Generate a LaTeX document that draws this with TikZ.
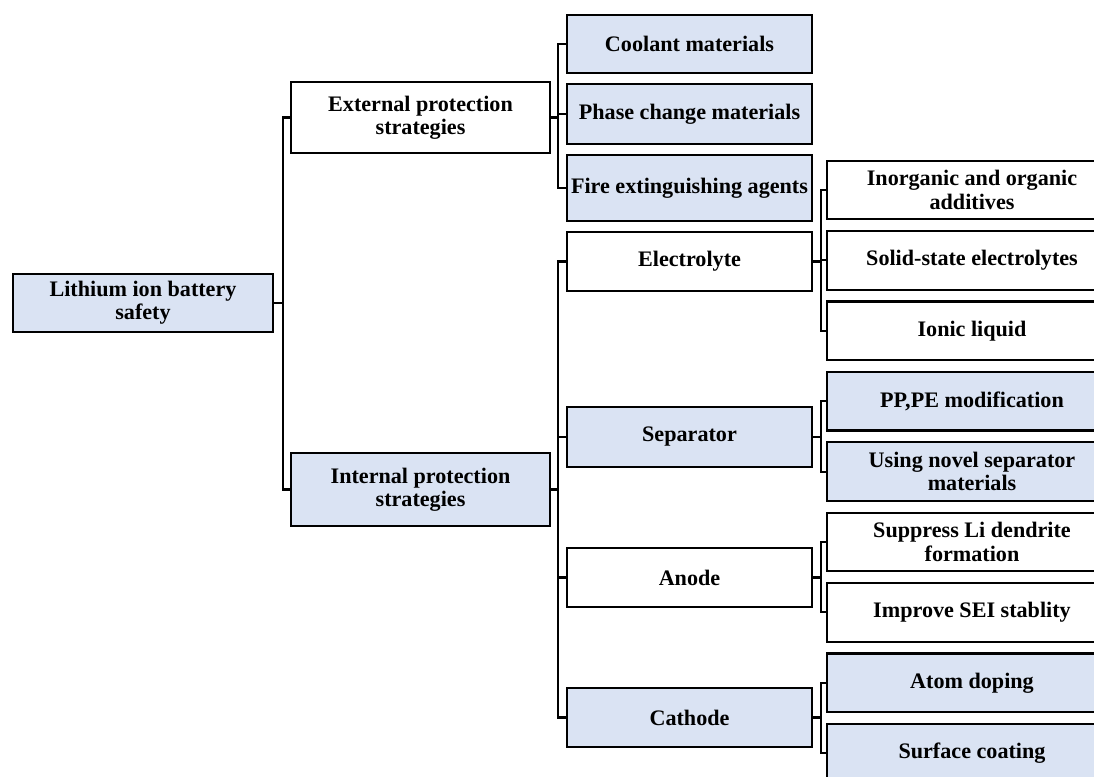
\documentclass[tikz,border=0pt]{standalone}
\usepackage{fontspec}
\setmainfont{Liberation Serif}
\usetikzlibrary{positioning}
\definecolor{lbFill}{HTML}{DAE3F3}
\tikzset{
  lbnode/.style={
    draw, line width=1.6pt, align=center, inner sep=2pt,
    font=\bfseries\fontsize{16.6}{17.5}\selectfont
  },
  lbwhite/.style={lbnode, fill=white},
  lbblue/.style={lbnode, fill=lbFill},
  rootbox/.style={minimum width=195pt, minimum height=43.5pt},
  stratbox/.style={minimum width=194pt},
  partbox/.style={minimum width=184pt, minimum height=44pt},
  leafbox/.style={minimum width=217.5pt, minimum height=44pt},
  link/.style={line width=1.6pt, black}
}

\begin{document}
\begin{tikzpicture}[x=0.75pt, y=-0.75pt, node distance=7.2pt]
  \useasboundingbox (0,0) rectangle (1094,776);
  \node[lbblue, rootbox] (root) at (143,303) {Lithium ion battery\\safety};
  \node[lbwhite, stratbox, minimum height=53pt] (ext) at (420.5,117.5) {External protection\\strategies};
  \node[lbblue, stratbox, minimum height=55pt] (int) at (420.5,489.5) {Internal protection\\strategies};
  \node[lbblue, partbox, minimum height=43.5pt] (cool) at (689.5,44) {Coolant materials};
  \node[lbblue, partbox, minimum height=45pt] (phase) at (689.5,114) {Phase change materials};
  \node[lbblue, partbox, minimum height=49.5pt] (fire) at (689.5,188) {Fire extinguishing agents};
  \node[lbwhite, partbox] (elec) at (689.5,261.5) {Electrolyte};
  \node[lbblue, partbox, minimum height=45pt] (sep) at (689.5,437) {Separator};
  \node[lbwhite, partbox] (anode) at (689.5,577.5) {Anode};
  \node[lbblue, partbox] (cath) at (689.5,717.5) {Cathode};
  \node[lbwhite, leafbox] (inorg) at (972,190) {Inorganic and organic\\additives};
  \node[lbwhite, leafbox, below=of inorg] (solid) {Solid-state electrolytes};
  \node[lbwhite, leafbox, below=of solid] (ionic) {Ionic liquid};
  \node[lbblue, leafbox, below=of ionic] (pppe) {PP,PE modification};
  \node[lbblue, leafbox, below=of pppe] (novel) {Using novel separator\\materials};
  \node[lbwhite, leafbox, below=of novel] (dendrite) {Suppress Li dendrite\\formation};
  \node[lbwhite, leafbox, below=of dendrite] (sei) {Improve SEI stablity};
  \node[lbblue, leafbox, below=of sei] (doping) {Atom doping};
  \node[lbblue, leafbox, below=of doping] (coating) {Surface coating};
  \foreach \n in {ext,int}{\draw[link] (root.east) -- ++(9,0) |- (\n.west);}
  \foreach \n in {cool,phase,fire}{\draw[link] (ext.east) -- ++(7,0) |- (\n.west);}
  \foreach \n in {elec,sep,anode,cath}{\draw[link] (int.east) -- ++(7,0) |- (\n.west);}
  \foreach \n in {inorg,solid,ionic}{\draw[link] (elec.east) -- ++(8,0) |- (\n.west);}
  \foreach \n in {pppe,novel}{\draw[link] (sep.east) -- ++(8,0) |- (\n.west);}
  \foreach \n in {dendrite,sei}{\draw[link] (anode.east) -- ++(8,0) |- (\n.west);}
  \foreach \n in {doping,coating}{\draw[link] (cath.east) -- ++(8,0) |- (\n.west);}
\end{tikzpicture}
\end{document}
